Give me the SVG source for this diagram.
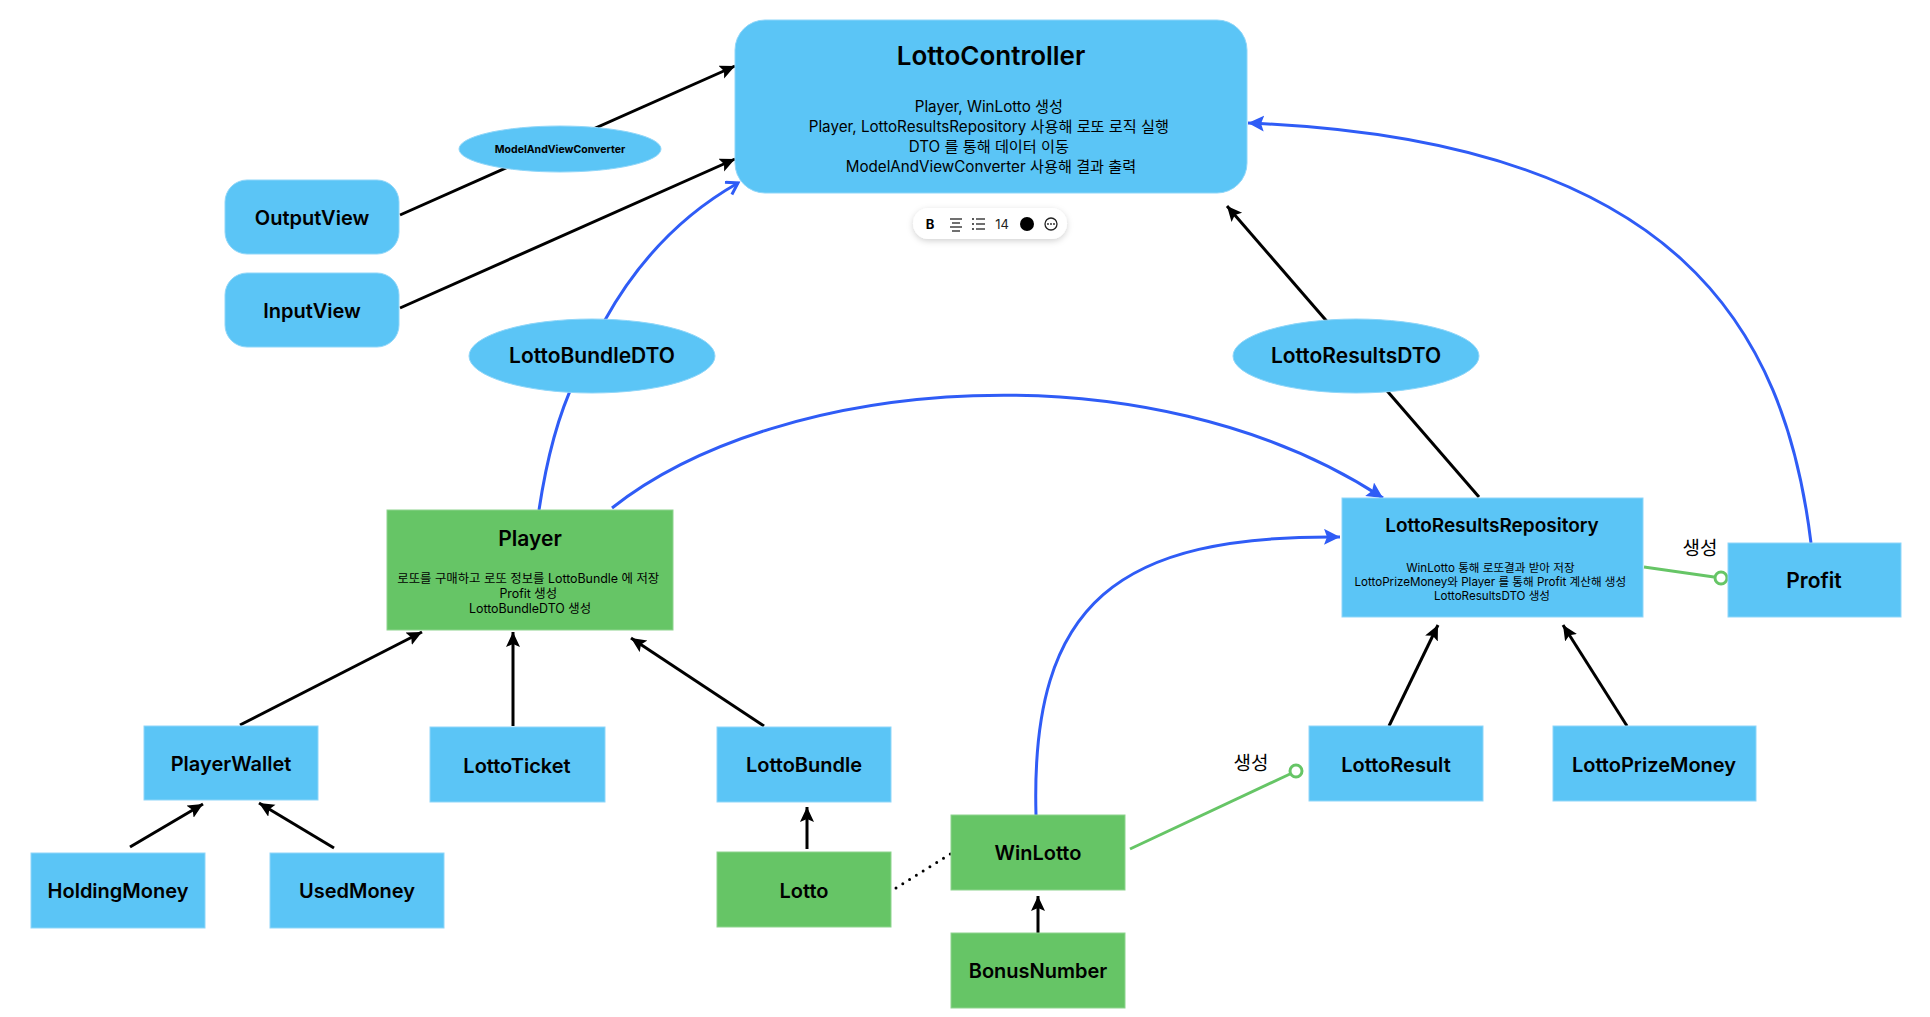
<svg xmlns="http://www.w3.org/2000/svg" width="1930" height="1017" viewBox="0 0 1930 1017">
<defs>
<style>
.bg{fill:#ffffff}
.nb{fill:#5BC5F6;stroke:#8fd6f9;stroke-width:1}
.ng{fill:#66C566;stroke:#8ed48e;stroke-width:1}
.t{font-family:Inter,"Noto Sans CJK KR",sans-serif;fill:#000;text-anchor:middle}
.lbl{font-size:20px;font-weight:600}
.body{font-weight:400}
.k{stroke:#000;stroke-width:3;fill:none}
.b{stroke:#2F5CF6;stroke-width:3;fill:none}
.g{stroke:#66C566;stroke-width:3;fill:none}
.gc{stroke:#66C566;stroke-width:3;fill:#fff}
.dot{stroke:#000;stroke-width:3;fill:none;stroke-dasharray:0 8;stroke-linecap:round}
</style>
<marker id="ak" markerUnits="userSpaceOnUse" markerWidth="18" markerHeight="16" refX="15" refY="7" orient="auto">
<path d="M0,0 L15,7 L0,14 L3,7 z" fill="#000"/>
</marker>
<marker id="ab" markerUnits="userSpaceOnUse" markerWidth="20" markerHeight="18" refX="16" refY="8" orient="auto">
<path d="M0,0 L16,8 L0,16 L3,8 z" fill="#2F5CF6"/>
</marker>
<marker id="av" markerUnits="userSpaceOnUse" markerWidth="18" markerHeight="18" refX="12" refY="8" orient="auto">
<path d="M1,1 L12,8 L1,15" fill="none" stroke="#2F5CF6" stroke-width="3" stroke-linejoin="miter"/>
</marker>
<filter id="sh" x="-20%" y="-50%" width="140%" height="200%">
<feDropShadow dx="0" dy="2" stdDeviation="3" flood-color="#000" flood-opacity="0.18"/>
</filter>
</defs>
<rect class="bg" x="0" y="0" width="1930" height="1017"/>

<g id="connectors">
<path class="k" d="M400,215 L735,66" marker-end="url(#ak)"/>
<path class="k" d="M400,308 L735,159" marker-end="url(#ak)"/>
<path class="b" d="M539,510 Q551,430 575,380 L605,320 Q655,230 738,183" marker-end="url(#av)"/>
<path class="k" d="M1479,497 L1227,206" marker-end="url(#ak)"/>
<path class="b" d="M1811,543 C1785,330 1680,140 1248,123" marker-end="url(#ab)"/>
<path class="b" d="M612,508 C780,375 1150,345 1383,498" marker-end="url(#ab)"/>
<path class="b" d="M1036,815 C1030,600 1120,535 1340,537" marker-end="url(#ab)"/>
<path class="k" d="M240,725 L422,632" marker-end="url(#ak)"/>
<path class="k" d="M513,726 L513,632" marker-end="url(#ak)"/>
<path class="k" d="M764,726 L631,638" marker-end="url(#ak)"/>
<path class="k" d="M130,847 L203,804" marker-end="url(#ak)"/>
<path class="k" d="M334,848 L259,803" marker-end="url(#ak)"/>
<path class="k" d="M807,849 L807,807" marker-end="url(#ak)"/>
<path class="k" d="M1038,937 L1038,896" marker-end="url(#ak)"/>
<path class="dot" d="M896,888 L952,853"/>
<path class="k" d="M1389,726 L1438,625" marker-end="url(#ak)"/>
<path class="k" d="M1627,726 L1563,625" marker-end="url(#ak)"/>
<path class="g" d="M1130,849 L1290,774"/>
<circle class="gc" cx="1296" cy="771" r="6"/>
<text class="t" x="1251" y="770" font-size="19">생성</text>
<path class="g" d="M1644,567 L1714,577"/>
<circle class="gc" cx="1721" cy="578" r="6"/>
<text class="t" x="1700" y="555" font-size="19">생성</text>
</g>

<g id="LottoController">
<rect class="nb" x="735" y="20" width="512" height="173" rx="30"/>
<text class="t" x="991" y="65" font-size="26" font-weight="600">LottoController</text>
<text class="t body" font-size="15.2">
<tspan x="991" y="112">Player, WinLotto 생성</tspan>
<tspan x="991" y="132">Player, LottoResultsRepository 사용해 로또 로직 실행</tspan>
<tspan x="991" y="152">DTO 를 통해 데이터 이동</tspan>
<tspan x="991" y="172">ModelAndViewConverter 사용해 결과 출력</tspan>
</text>
</g>

<g id="toolbar" font-family="Inter,sans-serif">
<rect x="913" y="208" width="154" height="31" rx="15.5" fill="#fff" filter="url(#sh)"/>
<text x="930" y="229" font-size="13" font-weight="700" text-anchor="middle" fill="#000">B</text>
<g stroke="#222" stroke-width="1.3">
<line x1="950" y1="219" x2="962" y2="219"/><line x1="952" y1="223" x2="960" y2="223"/><line x1="950" y1="227" x2="962" y2="227"/><line x1="952" y1="231" x2="960" y2="231"/>
<line x1="976" y1="219" x2="985" y2="219"/><line x1="976" y1="224" x2="985" y2="224"/><line x1="976" y1="229" x2="985" y2="229"/>
</g>
<g fill="#222"><circle cx="973" cy="219" r="1"/><circle cx="973" cy="224" r="1"/><circle cx="973" cy="229" r="1"/></g>
<text x="1002" y="229" font-size="13" text-anchor="middle" fill="#222">14</text>
<circle cx="1027" cy="224" r="7" fill="#000"/>
<circle cx="1051" cy="224" r="6" fill="none" stroke="#222" stroke-width="1.3"/>
<g fill="#222"><circle cx="1048" cy="224" r="0.9"/><circle cx="1051" cy="224" r="0.9"/><circle cx="1054" cy="224" r="0.9"/></g>
</g>

<g id="OutputView">
<rect class="nb" x="225" y="180" width="174" height="74" rx="22"/>
<text class="t lbl" x="312" y="225">OutputView</text>
</g>
<g id="InputView">
<rect class="nb" x="225" y="273" width="174" height="74" rx="22"/>
<text class="t lbl" x="312" y="318">InputView</text>
</g>
<g id="ModelAndViewConverter">
<ellipse class="nb" cx="560" cy="149" rx="101" ry="23"/>
<text class="t" x="560" y="153" font-size="10.5" font-weight="700">ModelAndViewConverter</text>
</g>
<g id="LottoBundleDTO">
<ellipse class="nb" cx="592" cy="356" rx="123" ry="37"/>
<text class="t" x="592" y="363" font-size="21" font-weight="600">LottoBundleDTO</text>
</g>
<g id="LottoResultsDTO">
<ellipse class="nb" cx="1356" cy="356" rx="123" ry="37"/>
<text class="t" x="1356" y="363" font-size="21" font-weight="600">LottoResultsDTO</text>
</g>
<g id="Player">
<rect class="ng" x="387" y="510" width="286" height="120"/>
<text class="t" x="530" y="546" font-size="21" font-weight="600">Player</text>
<text class="t body" font-size="12.4">
<tspan x="530" y="583">로또를 구매하고 로또 정보를 LottoBundle 에 저장</tspan>
<tspan x="530" y="598">Profit 생성</tspan>
<tspan x="530" y="613">LottoBundleDTO 생성</tspan>
</text>
</g>
<g id="LottoResultsRepository">
<rect class="nb" x="1342" y="498" width="301" height="119"/>
<text class="t" x="1492" y="532" font-size="19" font-weight="600">LottoResultsRepository</text>
<text class="t body" font-size="11.6">
<tspan x="1492" y="572">WinLotto 통해 로또결과 받아 저장</tspan>
<tspan x="1492" y="586">LottoPrizeMoney와 Player 를 통해 Profit 계산해 생성</tspan>
<tspan x="1492" y="600">LottoResultsDTO 생성</tspan>
</text>
</g>
<g id="Profit">
<rect class="nb" x="1728" y="543" width="173" height="74"/>
<text class="t" x="1814" y="588" font-size="21" font-weight="600">Profit</text>
</g>
<g id="PlayerWallet">
<rect class="nb" x="144" y="726" width="174" height="74"/>
<text class="t lbl" x="231" y="771">PlayerWallet</text>
</g>
<g id="LottoTicket">
<rect class="nb" x="430" y="727" width="175" height="75"/>
<text class="t lbl" x="517" y="773">LottoTicket</text>
</g>
<g id="LottoBundle">
<rect class="nb" x="717" y="727" width="174" height="75"/>
<text class="t lbl" x="804" y="772">LottoBundle</text>
</g>
<g id="HoldingMoney">
<rect class="nb" x="31" y="853" width="174" height="75"/>
<text class="t lbl" x="118" y="898">HoldingMoney</text>
</g>
<g id="UsedMoney">
<rect class="nb" x="270" y="853" width="174" height="75"/>
<text class="t lbl" x="357" y="898">UsedMoney</text>
</g>
<g id="Lotto">
<rect class="ng" x="717" y="852" width="174" height="75"/>
<text class="t lbl" x="804" y="898">Lotto</text>
</g>
<g id="WinLotto">
<rect class="ng" x="951" y="815" width="174" height="75"/>
<text class="t lbl" x="1038" y="860">WinLotto</text>
</g>
<g id="BonusNumber">
<rect class="ng" x="951" y="933" width="174" height="75"/>
<text class="t lbl" x="1038" y="978">BonusNumber</text>
</g>
<g id="LottoResult">
<rect class="nb" x="1309" y="726" width="174" height="75"/>
<text class="t lbl" x="1396" y="772">LottoResult</text>
</g>
<g id="LottoPrizeMoney">
<rect class="nb" x="1553" y="726" width="203" height="75"/>
<text class="t lbl" x="1654" y="772">LottoPrizeMoney</text>
</g>
</svg>
